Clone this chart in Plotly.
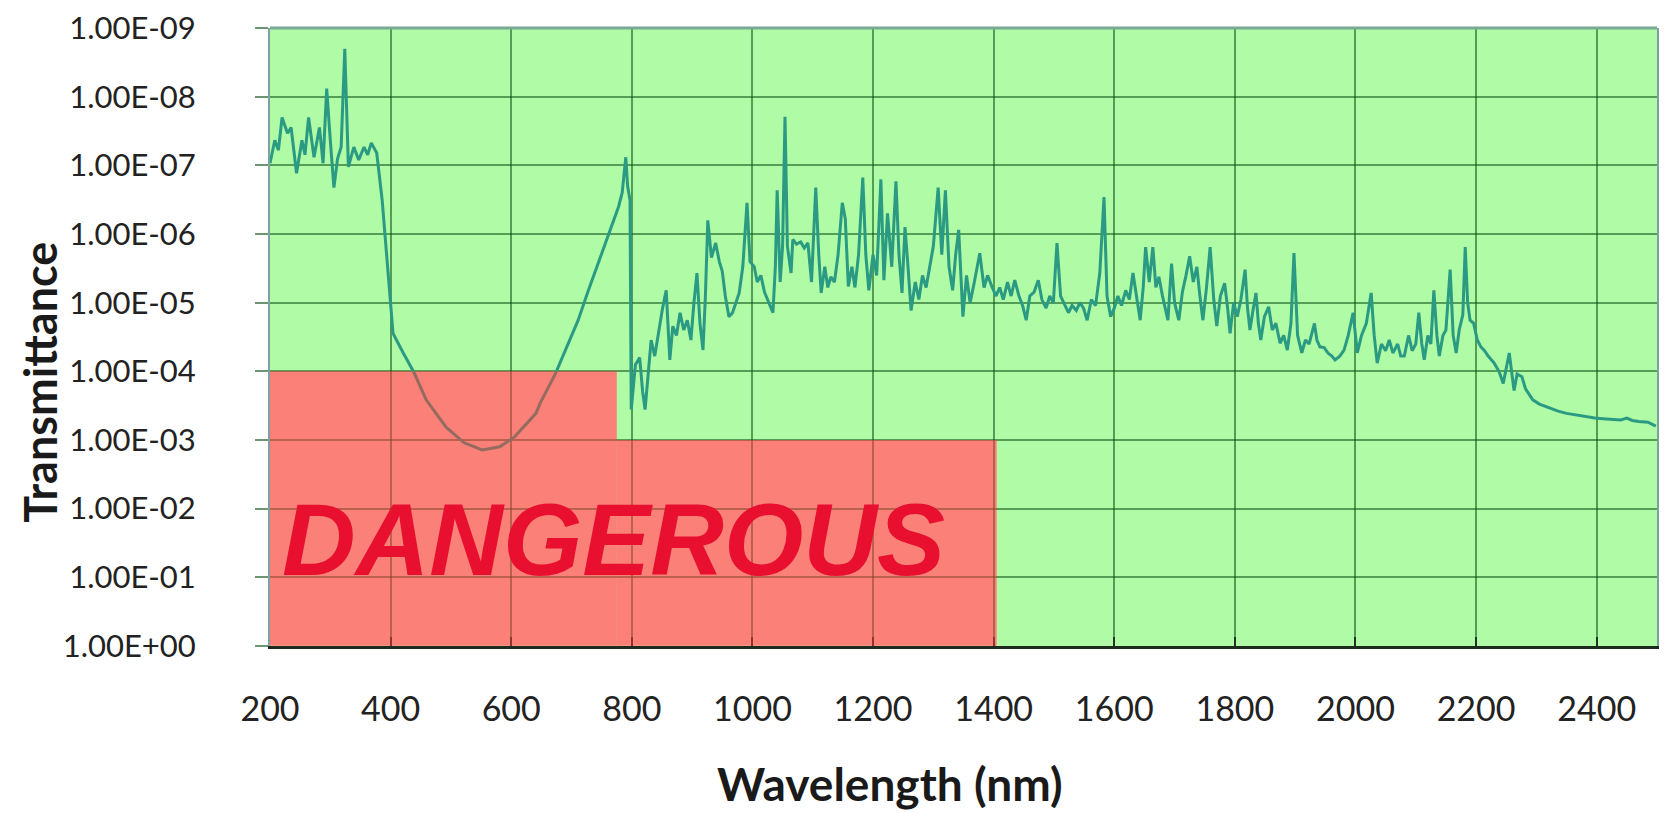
import plotly.graph_objects as go

# Wavelength (nm) and transmittance
wavelength = [
    200, 208, 214, 220, 229, 235, 244, 253, 258, 264, 273, 282, 288, 294, 300, 306, 312, 318, 324,
    330, 339, 347, 356, 362, 368, 377, 386, 395, 404, 421, 439, 459, 492, 522, 552, 581,
    605, 641, 648, 673, 692, 711, 727, 742, 758, 772, 778, 784, 788, 790, 793, 797,
    799, 806, 813, 818, 822, 827, 832, 838, 845, 851, 857, 863, 868, 874, 880, 886, 892, 898,
    903, 908, 913, 918, 922, 926, 932, 939, 945, 950, 955, 961, 967, 972, 978, 984, 991, 996,
    1003, 1008, 1014, 1020, 1027, 1034, 1038, 1041, 1046, 1050, 1054, 1058, 1064, 1067, 1073,
    1080, 1086, 1092, 1098, 1105, 1110, 1114, 1120, 1125, 1130, 1136, 1142, 1149, 1154, 1159,
    1165, 1170, 1176, 1183, 1188, 1193, 1200, 1206, 1213, 1218, 1224, 1231, 1238, 1243, 1248,
    1253, 1258, 1263, 1270, 1276, 1282, 1288, 1294, 1300, 1308, 1314, 1320, 1326, 1332, 1337,
    1342, 1349, 1355, 1361, 1368, 1377, 1384, 1390, 1397, 1404, 1410, 1416, 1423, 1429, 1435,
    1442, 1448, 1454, 1460, 1467, 1474, 1480, 1487, 1493, 1499, 1505, 1511, 1518, 1524, 1530,
    1537, 1543, 1549, 1555, 1562, 1569, 1576, 1583, 1588, 1594, 1600, 1606, 1612, 1619, 1625,
    1631, 1637, 1643, 1648, 1652, 1658, 1664, 1669, 1674, 1680, 1689, 1695, 1700, 1707, 1713,
    1719, 1725, 1731, 1737, 1742, 1747, 1753, 1759, 1765, 1770, 1776, 1783, 1788, 1792, 1798,
    1804, 1810, 1817, 1821, 1825, 1830, 1835, 1839, 1843, 1849, 1856, 1862, 1868, 1875, 1881,
    1887, 1893, 1898, 1904, 1911, 1917, 1923, 1932, 1936, 1941, 1948, 1955, 1961, 1966, 1974,
    1981, 1988, 1996, 2003, 2010, 2018, 2026, 2031, 2036, 2043, 2050, 2056, 2062, 2070, 2075,
    2081, 2088, 2094, 2100, 2105, 2110, 2114, 2120, 2125, 2130, 2135, 2139, 2145, 2150, 2157,
    2162, 2167, 2172, 2178, 2182, 2186, 2190, 2196, 2202, 2208, 2214, 2220, 2230, 2238, 2245,
    2250, 2255, 2260, 2263, 2268, 2276, 2282, 2288, 2294, 2305, 2320, 2336, 2350, 2365, 2380,
    2397, 2410, 2425, 2440, 2450, 2459, 2470, 2485, 2498]
transmittance = [
    9.3e-8, 4.3e-8, 6e-8, 2.0e-8, 3.4e-8, 2.8e-8, 1.3e-7, 4.3e-8, 7e-8, 2.0e-8, 7.6e-8, 2.8e-8, 9.3e-8, 7.6e-9, 4.3e-8, 2.1e-7, 8e-8, 5.4e-8, 2.0e-9,
    1.05e-7, 5.4e-8, 8.3e-8, 5.4e-8, 7e-8, 4.7e-8, 6.6e-8, 3.2e-7, 3.0e-6, 2.8e-5, 5.4e-5, 1.05e-4, 2.6e-4, 6.5e-4, 1.1e-3, 1.4e-3, 1.26e-3,
    9.1e-4, 4.1e-4, 2.9e-4, 1.1e-4, 4.5e-5, 1.8e-5, 7e-6, 3.0e-6, 1.3e-6, 5.6e-7, 4e-7, 2.5e-7, 1.2e-7, 7.6e-8, 2e-7, 3.2e-7,
    3.6e-4, 8e-5, 6.3e-5, 2.0e-4, 3.6e-4, 1.0e-4, 3.5e-5, 6e-5, 2.5e-5, 1.2e-5, 6.6e-6, 6.8e-5, 2.2e-5, 3.0e-5, 1.4e-5, 2.5e-5, 1.8e-5, 3.5e-5,
    1.0e-5, 3.7e-6, 2.0e-5, 4.9e-5, 8e-6, 6.3e-7, 2.2e-6, 1.35e-6, 2.5e-6, 3.5e-6, 8e-6, 1.6e-5, 1.4e-5, 1.0e-5, 7.2e-6, 3e-6, 3.5e-7, 2.5e-6,
    3.0e-6, 5e-6, 4e-6, 7e-6, 1.0e-5, 1.4e-5, 3e-6, 2.3e-7, 5e-6, 1.5e-6, 1.95e-8, 1.5e-6, 3.7e-6, 1.2e-6, 1.4e-6,
    1.3e-6, 1.6e-6, 1.35e-6, 5e-6, 2.1e-7, 2e-6, 7.2e-6, 3e-6, 6e-6, 4.2e-6, 5e-6, 2e-6, 3.5e-7, 6e-7, 5.8e-6,
    3e-6, 6e-6, 2e-6, 1.5e-7, 2e-6, 6.6e-6, 2e-6, 4e-6, 1.6e-7, 4.7e-6, 5e-7, 3e-6, 1.7e-7, 2e-6, 7.2e-6,
    7.9e-7, 3e-6, 1.3e-5, 5e-6, 9e-6, 4e-6, 6e-6, 3e-6, 1.5e-6, 2.1e-7, 2e-6, 2.3e-7, 3e-6, 6.6e-6, 2e-6,
    8.7e-7, 1.6e-5, 4e-6, 1e-5, 5e-6, 1.9e-6, 6e-6, 4e-6, 5.8e-6, 8e-6, 6e-6, 9e-6, 5e-6, 8e-6, 4.7e-6,
    8e-6, 1.1e-5, 1.8e-5, 8e-6, 7e-6, 4.7e-6, 9e-6, 1.2e-5, 8e-6, 1.0e-5, 1.35e-6, 8e-6, 1.1e-5, 1.4e-5, 1.1e-5,
    1.3e-5, 1e-5, 1.2e-5, 1.8e-5, 9e-6, 1.1e-5, 3.7e-6, 2.9e-7, 8e-6, 1.6e-5, 1.2e-5, 8e-6, 1.1e-5, 6.6e-6, 9e-6,
    3.7e-6, 8e-6, 1.8e-5, 6e-6, 1.55e-6, 5e-6, 1.55e-6, 6e-6, 4.2e-6, 8e-6, 1.8e-5, 2.7e-6, 1e-5, 1.8e-5, 7e-6,
    4e-6, 2.1e-6, 5e-6, 3.0e-6, 8e-6, 1.8e-5, 6e-6, 1.55e-6, 9e-6, 2.2e-5, 8e-6, 5.2e-6, 1.2e-5, 2.8e-5, 1e-5,
    1.6e-5, 9e-6, 3.3e-6, 1.2e-5, 2.5e-5, 1.3e-5, 7.2e-6, 2e-5, 3.5e-5, 1.6e-5, 1.15e-5, 2.5e-5, 2e-5, 3.9e-5, 3e-5,
    4.9e-5, 2e-5, 1.9e-6, 3e-5, 5.4e-5, 3.5e-5, 4e-5, 2.0e-5, 3.5e-5, 4.4e-5, 4.5e-5, 5.5e-5, 6e-5, 6.8e-5, 6e-5,
    4.9e-5, 3e-5, 1.4e-5, 5.4e-5, 3e-5, 2e-5, 7.2e-6, 3e-5, 7.6e-5, 4e-5, 5e-5, 3.5e-5, 5.4e-5, 4e-5, 6e-5,
    6.0e-5, 3e-5, 5e-5, 4e-5, 1.4e-5, 4e-5, 6.8e-5, 3e-5, 4e-5, 6.6e-6, 3e-5, 6.0e-5, 3e-5, 2.5e-5, 3.3e-6,
    3e-5, 5.4e-5, 2.5e-5, 1.5e-5, 1.55e-6, 1e-5, 1.8e-5, 2e-5, 3.5e-5, 4.4e-5, 5e-5, 6e-5, 7.6e-5, 1e-4, 1.5e-4,
    9e-5, 5.4e-5, 1.2e-4, 1.9e-4, 1.1e-4, 1.2e-4, 1.8e-4, 2.2e-4, 2.6e-4, 3e-4, 3.4e-4, 3.8e-4, 4.1e-4, 4.3e-4, 4.6e-4,
    4.8e-4, 4.9e-4, 5.0e-4, 5.1e-4, 4.8e-4, 5.2e-4, 5.4e-4, 5.5e-4, 6.3e-4]
assert len(wavelength) == len(transmittance)

# Dangerous zones: x start, x end and transmittance threshold (shaded down to 1)
danger_x0 = [200, 775]
danger_x1 = [775, 1405]
danger_threshold = [1e-4, 1e-3]

x_ticks = [200, 400, 600, 800, 1000, 1200, 1400, 1600, 1800, 2000, 2200, 2400]
y_tick_vals = [1e0, 1e-1, 1e-2, 1e-3, 1e-4, 1e-5, 1e-6, 1e-7, 1e-8, 1e-9]
y_tick_text = ["1.00E+00", "1.00E-01", "1.00E-02", "1.00E-03", "1.00E-04",
               "1.00E-05", "1.00E-06", "1.00E-07", "1.00E-08", "1.00E-09"]

fig = go.Figure()
fig.add_trace(go.Scatter(x=wavelength, y=transmittance, mode="lines",
                         line=dict(color="#2a9a82", width=3), showlegend=False,
                         hoverinfo="x+y"))

for x0, x1, thr in zip(danger_x0, danger_x1, danger_threshold):
    # opaque base below the grid, translucent tint above the curve
    fig.add_shape(type="rect", xref="x", yref="y", x0=x0, x1=x1, y0=thr, y1=1,
                  fillcolor="rgb(245,196,180)", line_width=0, layer="below")
    fig.add_shape(type="rect", xref="x", yref="y", x0=x0, x1=x1, y0=thr, y1=1,
                  fillcolor="rgb(255,60,60)", opacity=0.5, line_width=0, layer="above")

fig.add_annotation(x=770, y=-1.54, xref="x", yref="y", text="<i><b>DANGEROUS</b></i>",
                   showarrow=False, xanchor="center", yanchor="middle",
                   font=dict(family="Liberation Sans, Arial", size=102, color="#e8102e"))

fig.add_annotation(x=0.447, y=-0.222, xref="paper", yref="paper", text="<b>Wavelength (nm)</b>",
                   showarrow=False, xanchor="center", yanchor="middle",
                   font=dict(family="Lato", size=46, color="#1a1a1a"))
fig.add_annotation(x=-0.166, y=0.427, xref="paper", yref="paper", text="<b>Transmittance</b>",
                   textangle=-90, showarrow=False, xanchor="center", yanchor="middle",
                   font=dict(family="Lato", size=45, color="#1a1a1a"))

# top border of the plot area
fig.add_shape(type="line", xref="paper", yref="paper", x0=0, x1=1, y0=1, y1=1,
              line=dict(color="rgb(120,170,150)", width=3), layer="above")

grid_col = "rgba(10,80,20,0.55)"
fig.update_xaxes(range=[200, 2500], tickvals=x_ticks, showgrid=True, gridcolor=grid_col, gridwidth=2,
                 ticks="inside", ticklen=9, tickwidth=2, tickcolor="#223322",
                 showline=True, linecolor="#1e2a1e", linewidth=3, zeroline=False,
                 tickfont=dict(family="Lato", size=34, color="#222222"), ticklabelstandoff=31)
fig.update_yaxes(type="log", range=[0.002, -9.002], tickvals=y_tick_vals, ticktext=y_tick_text,
                 showgrid=True, gridcolor=grid_col, gridwidth=2,
                 ticks="outside", ticklen=13, tickwidth=2, tickcolor="rgba(10,80,20,0.6)",
                 showline=True, linecolor="rgb(125,160,160)", linewidth=2, mirror=True, zeroline=False,
                 ticklabeloverflow="allow",
                 tickfont=dict(family="Lato", size=31, color="#222222"), ticklabelstandoff=53)

fig.update_layout(width=1667, height=805, margin=dict(l=262, r=18, t=20, b=167, autoexpand=False),
                  plot_bgcolor="rgb(176,251,166)", paper_bgcolor="white")

fig.write_html("out.html")
